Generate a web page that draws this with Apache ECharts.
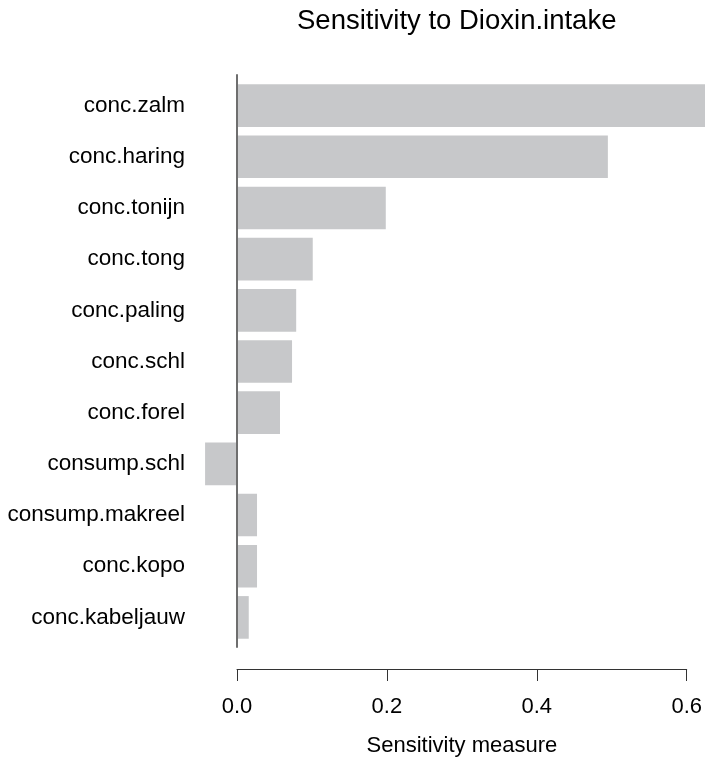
<!DOCTYPE html>
<html>
<head>
<meta charset="utf-8">
<script src="https://cdn.jsdelivr.net/npm/echarts@6/dist/echarts.min.js"></script>
<style>
  html, body { margin: 0; padding: 0; background: #fff; }
  #main { width: 705px; height: 763px; }
</style>
</head>
<body>
<div id="main"></div>
<script>
// variables, top to bottom
var variables = ['conc.zalm', 'conc.haring', 'conc.tonijn', 'conc.tong', 'conc.paling',
	'conc.schl', 'conc.forel', 'consump.schl', 'consump.makreel', 'conc.kopo', 'conc.kabeljauw'];
var sensitivity = [0.63, 0.493, 0.198, 0.101, 0.079, 0.0735, 0.0575, -0.042, 0.027, 0.027, 0.016];
var tickValues = [0, 0.2, 0.4, 0.6];

var font = 'Liberation Sans, Arial, Helvetica, sans-serif';

var chart = echarts.init(document.getElementById('main'));

chart.setOption({
	animation : false,
	title : {
		text : 'Sensitivity to Dioxin.intake',
		left : 297,
		top : 7,
		padding : 0,
		textStyle : { fontFamily : font, fontSize : 27.5, fontWeight : 'normal', color : '#000' }
	},
	grid : [
		// bars
		{ left : 184, right : 0, top : 80, height : 563 },
		// bottom axis, only 0 .. 0.6
		{ left : 237, width : 451.7, top : 640, height : 29 },
		// the zero line
		{ left : 237, width : 10, top : 75, height : 572 }
	],
	xAxis : [ {
		gridIndex : 0,
		type : 'value',
		min : -0.07,
		max : 0.622,
		show : false
	}, {
		gridIndex : 1,
		type : 'value',
		min : tickValues[0],
		max : tickValues[tickValues.length - 1],
		interval : 0.2,
		name : 'Sensitivity measure',
		nameLocation : 'middle',
		nameGap : 66,
		nameTextStyle : { fontFamily : font, fontSize : 22, color : '#000' },
		axisLine : { show : true, lineStyle : { color : '#333', width : 1 } },
		axisTick : { show : true, length : 12, lineStyle : { color : '#333' } },
		axisLabel : {
			fontFamily : font, fontSize : 22, color : '#000', margin : 27,
			formatter : function(v) { return v.toFixed(1); }
		},
		splitLine : { show : false }
	}, {
		gridIndex : 2,
		type : 'value',
		show : false
	} ],
	yAxis : [ {
		gridIndex : 0,
		type : 'category',
		data : variables,
		inverse : true,
		axisLine : { show : false, onZero : false },
		axisTick : { show : false },
		axisLabel : { fontFamily : font, fontSize : 22.5, color : '#000', margin : -1 },
		splitLine : { show : false }
	}, {
		gridIndex : 1,
		type : 'value',
		show : false
	}, {
		gridIndex : 2,
		type : 'value',
		z : 5,
		axisLine : { show : true, onZero : false, lineStyle : { color : '#6e6e6e', width : 2 } },
		axisTick : { show : false },
		axisLabel : { show : false },
		splitLine : { show : false }
	} ],
	series : [ {
		type : 'bar',
		xAxisIndex : 0,
		yAxisIndex : 0,
		data : sensitivity,
		barCategoryGap : '16.7%',
		itemStyle : { color : '#c7c8ca' },
		clip : true
	} ]
});
</script>
</body>
</html>
